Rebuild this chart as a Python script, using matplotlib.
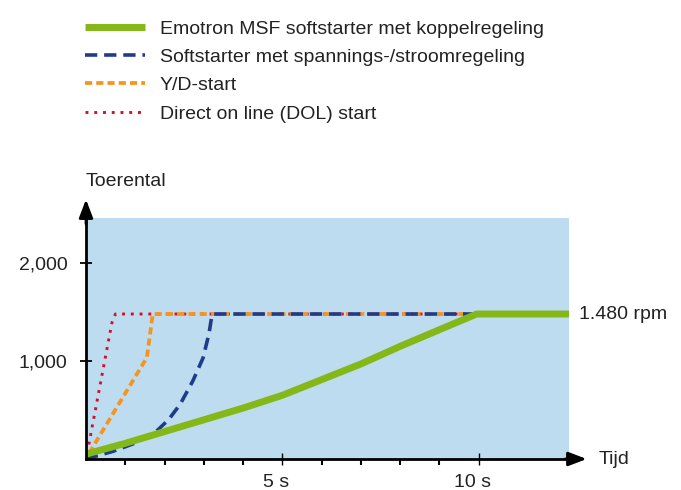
import matplotlib
matplotlib.use("Agg")
import matplotlib.pyplot as plt
from matplotlib.transforms import ScaledTranslation

plt.rcParams['font.family'] = ['Liberation Sans', 'DejaVu Sans']

# speed curves, time in s / speed in rpm
msf_t = [0, 1, 2, 3, 4, 5, 6, 7, 8, 9, 9.95, 12.3]
msf_v = [50, 160, 280, 400, 520, 650, 810, 970, 1150, 1320, 1480, 1480]

soft_t = [0, 0.7, 1.3, 1.8, 2.1, 2.4, 2.72, 2.98, 3.13, 3.2, 3.22, 9.9]
soft_v = [0, 80, 170, 286, 400, 560, 796, 1031, 1276, 1450, 1480, 1480]

yd_t = [0.08, 1.55, 1.7, 9.9]
yd_v = [60, 1035, 1480, 1480]

dol_t = [0.03, 0.66, 0.75, 9.9]
dol_v = [60, 1390, 1480, 1480]

labels = ["Emotron MSF softstarter met koppelregeling",
          "Softstarter met spannings-/stroomregeling",
          "Y/D-start",
          "Direct on line (DOL) start"]

y_ticks = [1000, 2000]
y_ticklabels = ["1,000", "2,000"]
x_major = [5, 10]
x_labels = ["5 s", "10 s"]
x_minor = [1, 2, 3, 4, 6, 7, 8, 9]

txt = '#222222'

fig = plt.figure(figsize=(6.81, 4.90), dpi=100)
ax = fig.add_axes([86 / 681, 31 / 490, 483 / 681, 241 / 490])
ax.set_facecolor('#bddcf0')
ax.set_xlim(0, 12.3)
ax.set_ylim(0, 2460)

l4, = ax.plot(dol_t, dol_v, color='#d40f2d', lw=2.1, ls=(0, (1, 2.0)), zorder=2)
l3, = ax.plot(yd_t, yd_v, color='#f7941d', lw=2.7, ls=(0, (1.9, 1.1)), zorder=3)
l2, = ax.plot(soft_t, soft_v, color='#1f3c8c', lw=2.6, ls=(0, (3.4, 1.9)), zorder=4)
l1, = ax.plot(msf_t, msf_v, color='#84b819', lw=5, solid_capstyle='butt', zorder=5)

for s in ['top', 'right']:
    ax.spines[s].set_visible(False)
for s in ['left', 'bottom']:
    ax.spines[s].set_linewidth(2)
    ax.spines[s].set_zorder(6)

# arrow heads on both axes
head = '-|>,head_length=1.1,head_width=0.42'
ax.annotate('', xy=(0, 2650), xytext=(0, 2400), annotation_clip=False,
            arrowprops=dict(arrowstyle=head, color='black', lw=2,
                            shrinkA=0, shrinkB=0))
ax.annotate('', xy=(12.75, 0), xytext=(12.2, 0), annotation_clip=False,
            arrowprops=dict(arrowstyle=head, color='black', lw=2,
                            shrinkA=0, shrinkB=0))

ax.set_yticks(y_ticks)
ax.set_yticklabels(y_ticklabels)
ax.tick_params(axis='y', direction='inout', length=9, width=1.3, pad=9,
               labelsize=14, labelcolor=txt)
ax.set_xticks(x_major)
ax.set_xticklabels(x_labels, ha='center')
ax.set_xticks(x_minor, minor=True)
ax.tick_params(axis='x', which='major', direction='inout', length=9, width=1,
               pad=6, labelsize=14, labelcolor=txt)
ax.tick_params(axis='x', which='minor', direction='out', length=4, width=1.5)
shift = ScaledTranslation(-6 / 100, 0, fig.dpi_scale_trans)
for lab in ax.get_xticklabels():
    lab.set_transform(lab.get_transform() + shift)

ax.text(0, 2830, "Toerental", fontsize=14, color=txt, ha='left', va='center')
ax.text(13.05, 0, "Tijd", fontsize=14, color=txt, ha='left', va='center')
ax.text(12.55, 1480, "1.480 rpm", fontsize=14, color=txt, ha='left', va='center')

fig.legend([l1, l2, l3, l4], labels, loc='upper left',
           bbox_to_anchor=(85 / 681, 1 - 20 / 490), frameon=False,
           fontsize=14, handlelength=3.1, handletextpad=0.75,
           labelspacing=0.55, borderpad=0, borderaxespad=0, labelcolor=txt)

fig.savefig("out.png", dpi=100)
